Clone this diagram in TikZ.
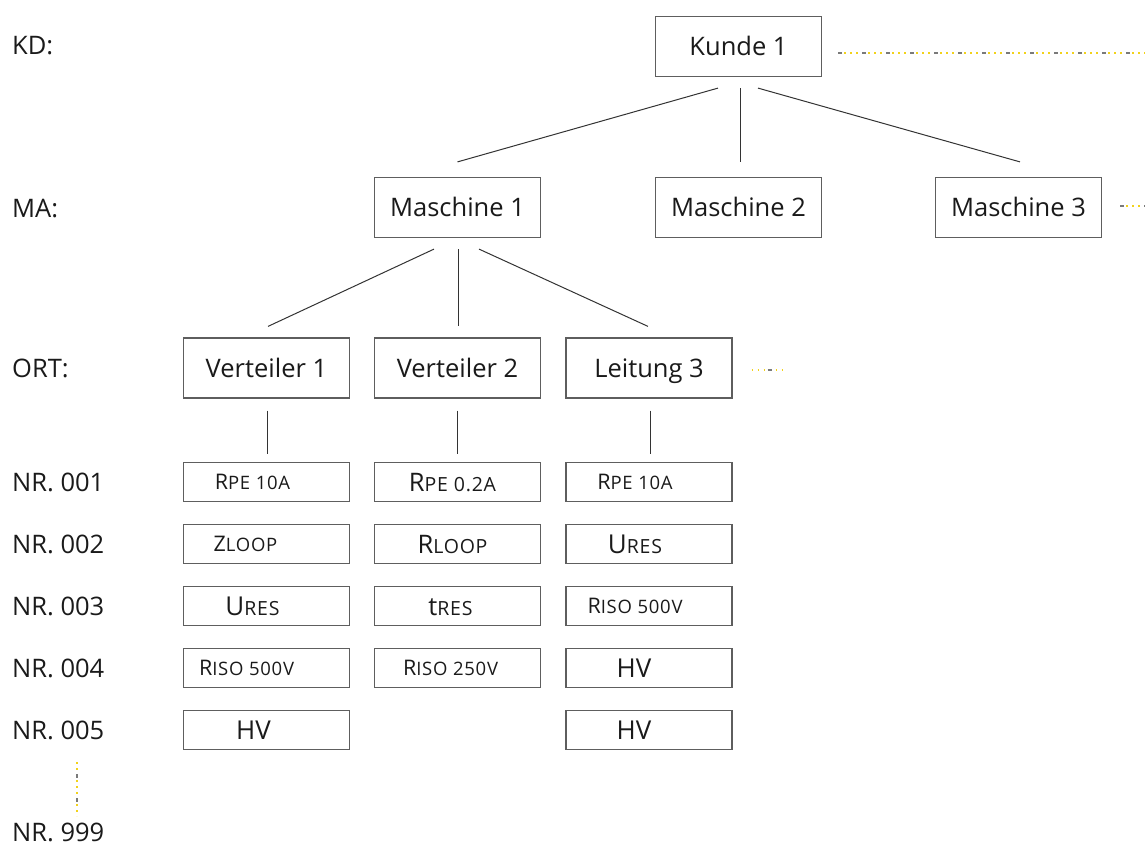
\documentclass[tikz,border=0pt]{standalone}
\usepackage{fontspec}
\setmainfont{Open Sans}
\newfontfamily\scf[LetterSpace=4]{Open Sans}
\definecolor{boxgray}{HTML}{5E5E5E}
\definecolor{linegray}{HTML}{333333}
\definecolor{txt}{HTML}{1A1A1A}
\definecolor{dotyel}{HTML}{F2D21B}
\definecolor{dotgray}{HTML}{7A7A7A}
\newcommand\fs[1]{\fontsize{#1}{#1}\selectfont}
\newcommand\sm[2]{{\scf\fs{#1}#2}}
\newcommand\padr[1]{\hspace*{#1pt}}
\tikzset{
  box/.style={draw=boxgray, line width=1.2pt, minimum width=166pt, minimum height=60pt, inner sep=0pt, font=\fs{25.5}, text=txt, text height=18pt, text depth=0pt},
  sbox/.style={draw=boxgray, line width=1.2pt, minimum width=166pt, minimum height=39pt, inner sep=0pt, text=txt, text height=14.5pt, text depth=0pt},
  hv/.style={text height=18pt},
  lbl/.style={anchor=west, font=\fs{25.5}, text=txt, inner sep=0pt, text height=18pt, text depth=0pt},
  conn/.style={draw=linegray, line width=1pt},
  dotsy/.style={draw=dotyel, line width=1.6pt, dash pattern=on 1.6pt off 4.4pt},
  dotsg/.style={draw=dotgray, line width=1.6pt, dash pattern=on 4pt off 20pt},
}
\begin{document}
\begin{tikzpicture}[x=1pt,y=-1pt]
\useasboundingbox (0,0) rectangle (1145,853);
% level labels
\node[lbl] (kd) at (12,46) {KD:};
\node[lbl] (ma) at (12,209) {MA:};
\node[lbl] (ort) at (12,368) {ORT:};
\node[lbl] (n1) at (12,482) {NR. 001};
\node[lbl] (n2) at (12,544) {NR. 002};
\node[lbl] (n3) at (12,606) {NR. 003};
\node[lbl] (n4) at (12,668) {NR. 004};
\node[lbl] (n5) at (12,730) {NR. 005};
\node[lbl] (n9) at (12,832) {NR. 999};
% tree boxes
\node[box] (k) at (738.5,46.5) {Kunde 1};
\node[box] (m1) at (457.5,207.5) {Maschine 1};
\node[box] (m2) at (738.5,207.5) {Maschine 2};
\node[box] (m3) at (1018.5,207.5) {Maschine 3};
\node[box] (v1) at (266.5,368) {Verteiler 1};
\node[box] (v2) at (457.5,368) {Verteiler 2};
\node[box] (l3) at (649,368) {Leitung 3};
% column 1
\node[sbox] (a1) at (266.5,482) {{\fs{21.5}R}\sm{18.5}{PE 10A}\padr{28}};
\node[sbox] (a2) at (266.5,544) {{\fs{21.5}Z}\sm{18.5}{LOOP}\padr{42}};
\node[sbox, hv] (a3) at (266.5,606) {{\fs{26}U}\sm{19.5}{RES}\padr{28}};
\node[sbox] (a4) at (266.5,668) {{\fs{21.5}R}\sm{18.5}{ISO 500V}\padr{40}};
\node[sbox, hv] (a5) at (266.5,730) {{\fs{26}HV}\padr{26}};
% column 2
\node[sbox, hv] (b1) at (457.5,482) {{\fs{25.5}R}\sm{19.5}{PE 0.2A}\padr{10}};
\node[sbox, hv] (b2) at (457.5,544) {{\fs{25.5}R}\sm{19.5}{LOOP}\padr{10}};
\node[sbox, hv] (b3) at (457.5,606) {{\fs{25.5}t}\sm{19.5}{RES}\padr{14}};
\node[sbox] (b4) at (457.5,668) {{\fs{21.5}R}\sm{18.5}{ISO 250V}\padr{14}};
% column 3
\node[sbox] (c1) at (649,482) {{\fs{21.5}R}\sm{18.5}{PE 10A}\padr{28}};
\node[sbox, hv] (c2) at (649,544) {{\fs{26}U}\sm{19.5}{RES}\padr{28}};
\node[sbox] (c3) at (649,606) {{\fs{21.5}R}\sm{18.5}{ISO 500V}\padr{28}};
\node[sbox, hv] (c4) at (649,668) {{\fs{26}HV}\padr{30}};
\node[sbox, hv] (c5) at (649,730) {{\fs{26}HV}\padr{30}};
% connectors
\draw[conn] ([xshift=-20.5pt,yshift=-11pt]k.south) -- ([yshift=15pt]m1.north);
\draw[conn] ([xshift=1.5pt,yshift=-11pt]k.south) -- ([xshift=1.5pt,yshift=15pt]m2.north);
\draw[conn] ([xshift=19.5pt,yshift=-11pt]k.south) -- ([xshift=1.5pt,yshift=15pt]m3.north);
\draw[conn] ([xshift=-23.5pt,yshift=-11pt]m1.south) -- ([xshift=1.5pt,yshift=11pt]v1.north);
\draw[conn] ([xshift=0.5pt,yshift=-11pt]m1.south) -- ([xshift=0.5pt,yshift=11pt]v2.north);
\draw[conn] ([xshift=21.5pt,yshift=-11pt]m1.south) -- ([xshift=-1pt,yshift=11pt]l3.north);
\draw[conn] ([xshift=0.5pt,yshift=-12pt]v1.south) -- ([xshift=0.5pt,yshift=8pt]a1.north);
\draw[conn] ([yshift=-12pt]v2.south) -- ([yshift=8pt]b1.north);
\draw[conn] ([xshift=1pt,yshift=-12pt]l3.south) -- ([xshift=1pt,yshift=8pt]c1.north);
% dotted continuation marks
\coordinate (kd1) at ([xshift=16pt,yshift=-6.5pt]k.east);
\coordinate (kd2) at (1145,53);
\draw[dotsy] (kd1) -- (kd2);
\draw[dotsg] (kd1) -- (kd2);
\coordinate (md1) at ([xshift=18pt,yshift=1.5pt]m3.east);
\coordinate (md2) at (1145,206);
\draw[dotsy] (md1) -- (md2);
\draw[dotsg] (md1) -- (md2);
\coordinate (ld1) at ([xshift=19pt,yshift=-2pt]l3.east);
\coordinate (ld2) at (787,370);
\draw[dotsy] (ld1) -- (ld2);
\draw[dotsg] ([xshift=16pt]ld1) -- (ld2);
\coordinate (vd1) at (77,762);
\coordinate (vd2) at (77,816);
\draw[dotsy] (vd1) -- (vd2);
\draw[dotsg] ([yshift=-12pt]vd1) -- (vd2);
\end{tikzpicture}
\end{document}
